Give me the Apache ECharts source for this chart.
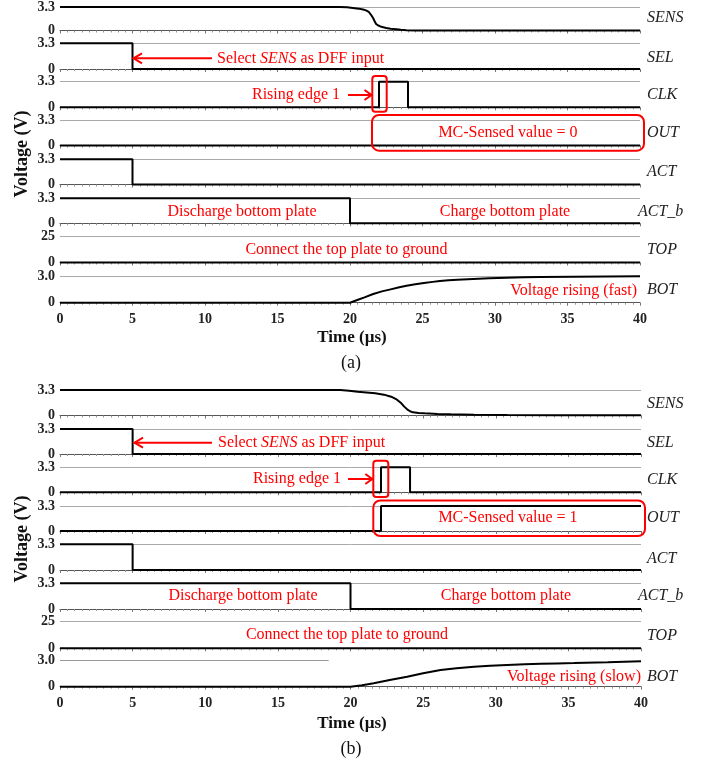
<!DOCTYPE html>
<html><head><meta charset="utf-8">
<script src="https://cdn.jsdelivr.net/npm/echarts@6/dist/echarts.min.js"></script>
<style>html,body{margin:0;padding:0;background:#fff}#c{width:709px;height:764px}</style>
</head><body><div id="c"></div>
<script>
const FONT = '"Liberation Serif", "Times New Roman", serif';
const RED = '#ff0000';

// ---- data ----
const rowNames = ['SENS', 'SEL', 'CLK', 'OUT', 'ACT', 'ACT_b', 'TOP', 'BOT'];
const yMax = [3.3, 3.3, 3.3, 3.3, 3.3, 3.3, 25, 3];
const yTopLabels = ['3.3', '3.3', '3.3', '3.3', '3.3', '3.3', '25', '3.0'];
const xMin = 0, xMax = 40, xInterval = 5;

// panel (a)
const sensA = [[0,3.3],[19.3,3.3],[19.8,3.26],[20.2,3.17],[20.6,3.07],[20.9,2.95],[21.1,2.82],[21.3,2.6],[21.45,2.2],[21.6,1.72],[21.7,1.3],[21.8,0.92],[21.95,0.7],[22.1,0.57],[22.3,0.45],[22.5,0.35],[22.8,0.26],[23.2,0.18],[23.5,0.1],[23.9,0.04],[24.5,0],[40,0]];
const selA  = [[0,3.3],[5,3.3],[5,0],[40,0]];
const clkA  = [[0,0],[22,0],[22,3.3],[24,3.3],[24,0],[40,0]];
const outA  = [[0,0],[40,0]];
const actA  = [[0,3.3],[5,3.3],[5,0],[40,0]];
const actbA = [[0,3.3],[20,3.3],[20,0],[40,0]];
const topA  = [[0,0],[40,0]];
const botA  = [[0,0],[20,0],[20.5,0.3],[21,0.6],[21.6,0.98],[22.2,1.27],[22.8,1.5],[23.4,1.73],[23.9,1.91],[24.5,2.07],[25.1,2.21],[25.7,2.34],[26.2,2.44],[26.8,2.52],[27.4,2.58],[28.5,2.66],[29.6,2.74],[30.8,2.81],[32,2.85],[33.1,2.89],[35.4,2.92],[37.7,2.95],[40,2.97]];

// panel (b)
const sensB = [[0,3.3],[19.3,3.3],[19.9,3.2],[20.5,3.08],[21.1,2.98],[21.7,2.87],[22.3,2.7],[22.8,2.43],[23.2,2.05],[23.5,1.58],[23.7,1.15],[23.9,0.8],[24.1,0.55],[24.3,0.41],[24.7,0.33],[25.1,0.28],[26,0.2],[26.9,0.15],[28.5,0.1],[30.8,0.06],[34,0.03],[40,0.02]];
const selB  = [[0,3.3],[5,3.3],[5,0],[40,0]];
const clkB  = [[0,0],[22.1,0],[22.1,3.3],[24.1,3.3],[24.1,0],[40,0]];
const outB  = [[0,0],[22.1,0],[22.1,3.3],[40,3.3]];
const actB  = [[0,3.3],[5,3.3],[5,0],[40,0]];
const actbB = [[0,3.3],[20,3.3],[20,0],[40,0]];
const topB  = [[0,0],[40,0]];
const botB  = [[0,0],[20,0],[20.8,0.17],[21.6,0.38],[22.7,0.75],[23.9,1.12],[25,1.5],[26.2,1.88],[27.3,2.08],[28.5,2.25],[29.6,2.36],[30.8,2.44],[32,2.52],[33.1,2.58],[34.2,2.62],[35.4,2.66],[37.7,2.75],[40,2.85]];

// ---- layout ----
const panels = [
  { series: [sensA, selA, clkA, outA, actA, actbA, topA, botA],
    tops:    [5, 43.3, 81.7, 120, 159.3, 198.3, 236, 276],
    bottoms: [30.5, 69, 107.3, 145.5, 184.5, 223.3, 262.5, 302.7],
    left: 60, right: 69, partialBotGrid: false },
  { series: [sensB, selB, clkB, outB, actB, actbB, topB, botB],
    tops:    [390, 429, 467.3, 506, 544.3, 583.3, 621.7, 660],
    bottoms: [415.5, 454, 492.3, 531, 570, 609, 648.3, 686.7],
    left: 60, right: 68, partialBotGrid: true }
];

const grid = [], xAxis = [], yAxis = [], series = [];
panels.forEach((p, pi) => {
  for (let i = 0; i < 8; i++) {
    const idx = grid.length;
    grid.push({ left: p.left, right: p.right, top: p.tops[i], height: p.bottoms[i] - p.tops[i] });
    xAxis.push({
      gridIndex: idx, type: 'value', min: xMin, max: xMax, interval: xInterval,
      axisLine: { show: true, onZero: false, lineStyle: { color: '#555', width: 1 } },
      axisTick: { show: true, length: 3, lineStyle: { color: '#777', width: 1 } },
      minorTick: { show: true, splitNumber: 10, length: 2, lineStyle: { color: '#999', width: 1 } },
      splitLine: { show: false },
      axisLabel: { show: i === 7, fontFamily: FONT, fontWeight: 'bold', fontSize: 14, color: '#222', margin: 10 }
    });
    const hideSplit = p.partialBotGrid && i === 7;
    yAxis.push({
      gridIndex: idx, type: 'value', min: 0, max: yMax[i], interval: yMax[i],
      axisLine: { show: false }, axisTick: { show: false },
      splitLine: { show: !hideSplit, lineStyle: { color: '#aaa', width: 1 } },
      axisLabel: { fontFamily: FONT, fontWeight: 'bold', fontSize: 14, color: '#222', margin: 5,
        formatter: (v) => v === 0 ? '0' : yTopLabels[i] }
    });
    const s = {
      type: 'line', xAxisIndex: idx, yAxisIndex: idx, data: p.series[i],
      symbol: 'none', showSymbol: false, clip: false, animation: false,
      lineStyle: { color: '#000', width: 2 }
    };
    if (hideSplit) {
      s.markLine = { silent: true, symbol: 'none', animation: false, label: { show: false },
        lineStyle: { color: '#999', width: 1, type: 'solid' },
        data: [[{ coord: [0, 3] }, { coord: [18.5, 3] }]] };
    }
    series.push(s);
  }
});

// ---- annotation graphics ----
const g = [];
function txt(text, x, y, opt) {
  opt = opt || {};
  g.push({ type: 'text', z: 100, style: {
    text, x, y, fill: opt.fill || '#222', fontFamily: FONT, fontSize: opt.size || 16,
    fontWeight: opt.weight || 'normal', fontStyle: opt.style || 'normal',
    textAlign: opt.align || 'left', align: opt.align || 'left',
    textVerticalAlign: 'middle', verticalAlign: 'middle'
  } });
}
function redTxt(text, x, y, align) { txt(text, x, y, { fill: RED, align }); }
function arrowLeft(x1, x2, y) {
  g.push({ type: 'polyline', z: 100, shape: { points: [[x1, y], [x2, y]] }, style: { stroke: RED, lineWidth: 2, fill: null } });
  g.push({ type: 'polyline', z: 100, shape: { points: [[x2 + 8.5, y - 5], [x2, y], [x2 + 8.5, y + 5]] }, style: { stroke: RED, lineWidth: 2, fill: null } });
}
function arrowRight(x1, x2, y) {
  g.push({ type: 'polyline', z: 100, shape: { points: [[x1, y], [x2, y]] }, style: { stroke: RED, lineWidth: 2, fill: null } });
  g.push({ type: 'polyline', z: 100, shape: { points: [[x2 - 7, y - 5], [x2, y], [x2 - 7, y + 5]] }, style: { stroke: RED, lineWidth: 2, fill: null } });
}
function box(x, y, w, h, r) {
  g.push({ type: 'rect', z: 100, shape: { x, y, width: w, height: h, r }, style: { fill: null, stroke: RED, lineWidth: 2 } });
}
function selText(x, y) {
  g.push({ type: 'text', z: 100, style: {
    text: 'Select {i|SENS} as DFF input', x, y, fill: RED, fontFamily: FONT, fontSize: 16,
    textAlign: 'left', align: 'left', textVerticalAlign: 'middle', verticalAlign: 'middle',
    rich: { i: { fontStyle: 'italic', fontFamily: FONT, fontSize: 16, fill: RED } }
  } });
}

const rightLabelY = [
  [18, 58, 95, 133, 172, 211.7, 250, 290],
  [403.3, 442.7, 480, 517.3, 559, 596, 636, 676.7]
];
rightLabelY.forEach(arr => arr.forEach((y, i) => {
  txt(rowNames[i], rowNames[i] === 'ACT_b' ? 638 : 647, y, { style: 'italic', size: 16 });
}));

// panel (a) annotations
selText(217, 58.3);
arrowLeft(212, 133.5, 58.3);
redTxt('Rising edge 1', 252, 95);
arrowRight(348, 371.5, 95);
box(372.3, 76, 14.4, 35.7, 3);
box(372, 115, 272, 35.7, 7);
redTxt('MC-Sensed value = 0', 508, 133, 'center');
redTxt('Discharge bottom plate', 242, 211.7, 'center');
redTxt('Charge bottom plate', 505, 211.7, 'center');
redTxt('Connect the top plate to ground', 346.5, 250, 'center');
redTxt('Voltage rising (fast)', 637, 290.7, 'right');

// panel (b) annotations
selText(218, 442.7);
arrowLeft(212, 134.5, 442.7);
redTxt('Rising edge 1', 253, 479);
arrowRight(348, 372.3, 479);
box(373.3, 460.7, 15, 36.3, 3);
box(373.3, 500.5, 271.7, 35.5, 7);
redTxt('MC-Sensed value = 1', 508, 517.3, 'center');
redTxt('Discharge bottom plate', 243, 596, 'center');
redTxt('Charge bottom plate', 506, 596, 'center');
redTxt('Connect the top plate to ground', 347, 635, 'center');
redTxt('Voltage rising (slow)', 641, 676.7, 'right');

// axis titles & panel captions
[[154, 338, 363, '(a)'], [539, 724, 749, '(b)']].forEach(([vy, ty, cy, cap]) => {
  g.push({ type: 'text', z: 100, x: 22, y: vy, rotation: Math.PI / 2, style: {
    text: 'Voltage (V)', x: 0, y: 0, fill: '#111', fontFamily: FONT, fontSize: 18, fontWeight: 'bold',
    textAlign: 'center', align: 'center', textVerticalAlign: 'middle', verticalAlign: 'middle' } });
  txt('Time (µs)', 352, ty, { weight: 'bold', size: 17, align: 'center', fill: '#111' });
  txt(cap, 351, cy, { size: 18, align: 'center', fill: '#111' });
});

const chart = echarts.init(document.getElementById('c'), null, { renderer: 'canvas' });
chart.setOption({ animation: false, backgroundColor: '#fff', grid, xAxis, yAxis, series, graphic: g });
</script></body></html>
